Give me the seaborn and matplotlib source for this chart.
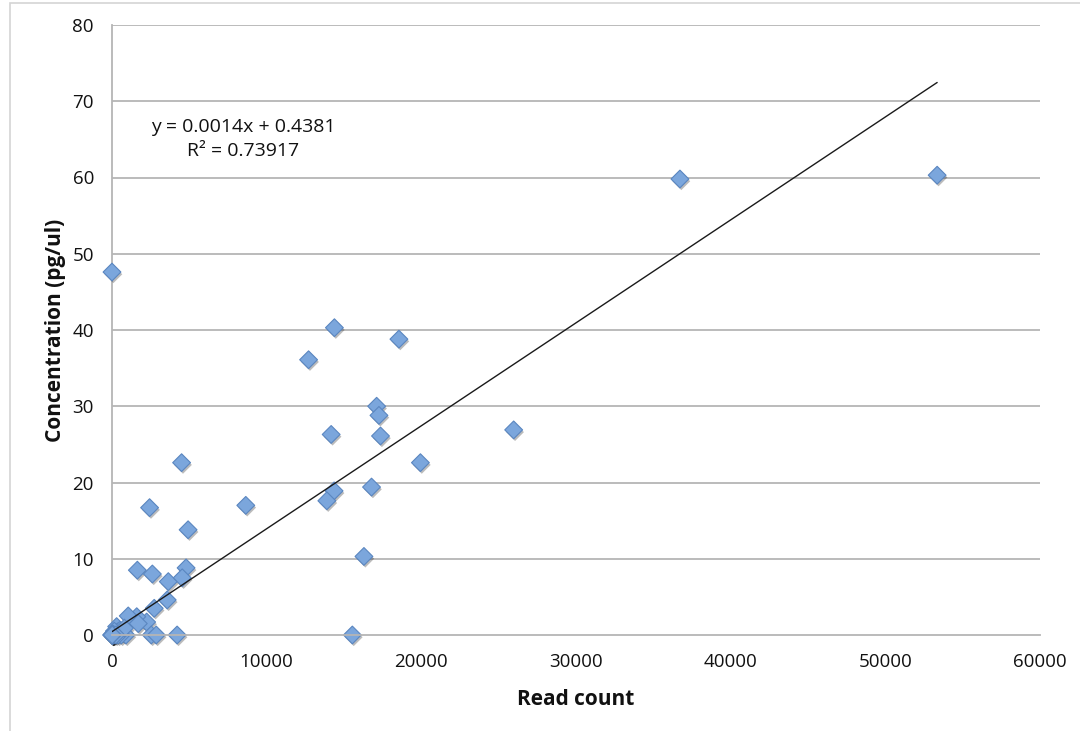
import numpy as np
import pandas as pd
import matplotlib
matplotlib.use("Agg")
import matplotlib.pyplot as plt
import matplotlib.patheffects as pe
from matplotlib.patches import Rectangle
import seaborn as sns

# ---- data ----
read_count = [0, 36720, 53350, 14380, 18550, 12710, 17110, 17260, 14170, 17360,
              25970, 4500, 19940, 16780, 14360, 13890, 8650, 2430, 4920, 16290,
              1640, 2610, 4790, 3640, 4540, 3570, 2730, 2240, 1600, 1050,
              1700, 300, 2540, 2860, 4210, 15540,
              0, 50, 100, 200, 350, 500, 700, 900, 150, 600, 400, 800,
              0, 10, 20, 30, 40, 60, 80, 120, 250, 0, 5, 15]
concentration = [47.6, 59.8, 60.3, 40.3, 38.8, 36.1, 30.0, 28.8, 26.3, 26.1,
                 26.9, 22.6, 22.6, 19.4, 18.9, 17.6, 17.0, 16.7, 13.8, 10.3,
                 8.5, 8.0, 8.8, 7.0, 7.5, 4.6, 3.5, 1.7, 2.4, 2.5,
                 1.5, 1.1, 0.0, 0.0, 0.0, 0.0,
                 0.0, 0.0, 0.2, 0.1, 0.4, 0.6, 0.3, 0.0, 0.5, 0.0, 0.0, 0.9,
                 0.0, 0.0, 0.0, 0.0, 0.0, 0.0, 0.1, 0.0, 0.0, 0.0, 0.0, 0.0]
fit_slope = 0.00135
fit_intercept = 0.4381
equation_text = "y = 0.0014x + 0.4381"
r2_text = "R² = 0.73917"
x_ticks = [0, 10000, 20000, 30000, 40000, 50000, 60000]
y_ticks = [0, 10, 20, 30, 40, 50, 60, 70, 80]
x_label = "Read count"
y_label = "Concentration (pg/ul)"

df = pd.DataFrame({"Read count": read_count, "Concentration": concentration})

sns.set_theme(style="white")
plt.rcParams["font.family"] = ["Open Sans", "DejaVu Sans"]

fig = plt.figure(figsize=(10.8, 7.31), dpi=100)
ax = fig.add_axes([112 / 1080, 1 - 635 / 731, (1040 - 112) / 1080, (635 - 25) / 731])

# outer chart border (top and left visible)
fig.add_artist(Rectangle((10 / 1080, -0.1), 1.2, 1 - 3 / 731 + 0.1,
                         transform=fig.transFigure, fill=False,
                         edgecolor="#d4d4d4", linewidth=1.2, zorder=0))

grid_col = "#b5b5b5"
for yv in y_ticks[1:]:
    ax.axhline(yv, color=grid_col, linewidth=1.3, zorder=0)

# trendline
xs = np.array([min(read_count), max(read_count)])
ax.plot(xs, fit_slope * xs + fit_intercept, color="#1a1a1a", linewidth=1.0, zorder=3)

sns.scatterplot(data=df, x="Read count", y="Concentration", marker="D",
                s=82, color="#7ba6dc", edgecolor="#5a86c0", linewidth=0.8,
                ax=ax, zorder=2)
for coll in ax.collections:
    coll.set_path_effects([pe.SimplePatchShadow(offset=(1.0, -1.6), alpha=0.3,
                                                shadow_rgbFace="#202020"),
                           pe.Normal()])
    coll.set_clip_on(False)

ax.set_xlim(0, 60000)
ax.set_ylim(0, 80)
ax.set_xticks(x_ticks)
ax.set_yticks(y_ticks)
ax.set_xticklabels([str(v) for v in x_ticks], fontweight="medium")
ax.set_yticklabels([str(v) for v in y_ticks], fontweight="medium")
ax.tick_params(axis="both", labelsize=13.5, colors="#111111", length=6,
               width=1.2, color=grid_col, direction="out")
ax.tick_params(axis="x", pad=7)
ax.tick_params(axis="y", pad=7)

for side in ["top", "right"]:
    ax.spines[side].set_visible(False)
for side in ["left", "bottom"]:
    ax.spines[side].set_color(grid_col)
    ax.spines[side].set_linewidth(1.3)
ax.spines["left"].set_zorder(0)

ax.set_xlabel(x_label, fontsize=15, fontweight="bold", labelpad=13, color="#111111")
ax.set_ylabel(y_label, fontsize=15, fontweight="bold", labelpad=5, color="#111111")

ax.text(8470, 66.6, equation_text, ha="center", va="center", fontsize=14, color="#111111")
ax.text(8470, 63.5, r2_text, ha="center", va="center", fontsize=14, color="#111111")

fig.savefig("out.png", dpi=100)
